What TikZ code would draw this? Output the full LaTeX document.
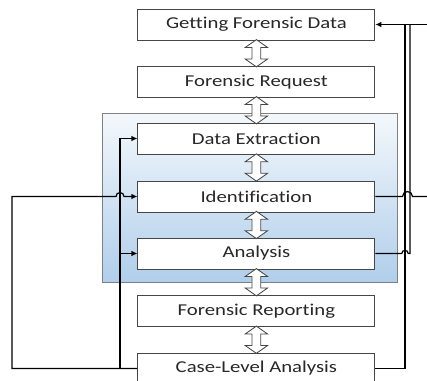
\documentclass[tikz,border=0pt]{standalone}
\usepackage{fontspec}
\setmainfont{Carlito}[FakeStretch=1.25, Ligatures={NoCommon}]
\usepackage{xcolor}
\definecolor{azulcl}{RGB}{244, 248, 252}
\definecolor{azulmed}{RGB}{176, 206, 235}
\definecolor{grisbd}{RGB}{128, 128, 128}
\definecolor{griscaja}{RGB}{70, 70, 70}
\definecolor{textogr}{RGB}{40, 40, 40}
\usepackage{tikz}
\usetikzlibrary{shapes, arrows, positioning, arrows.meta, calc}

\begin{document}
\begin{tikzpicture}[
    etapa/.style={draw=griscaja, line width=0.6pt, fill=white, minimum width=5.925cm,
        minimum height=0.775cm, inner sep=0pt, text=textogr, font=\fontsize{11.8}{14}\selectfont},
    doble/.style={double arrow, draw=griscaja, line width=0.6pt, fill=white, rotate=90,
        minimum height=0.68cm, inner sep=0pt, inner ysep=0.1cm,
        double arrow head extend=0.17cm, double arrow tip angle=110},
    enlace/.style={line width=0.85pt, black},
    punta/.style={-{Latex[length=1.5mm, width=1.4mm]}}
]
        \useasboundingbox (0,0) rectangle (10.675,-9.525);
        \shade[top color=azulcl, bottom color=azulmed, draw=grisbd, line width=0.6pt]
            (2.55,-2.825) rectangle (9.925,-7.05);

        \node[etapa] (gfd) at (6.41,-0.6125) {Getting Forensic Data};
        \node[etapa] (req) at (6.41,-2.05) {Forensic Request};
        \node[etapa] (ext) at (6.41,-3.4625) {Data Extraction};
        \node[etapa] (ide) at (6.41,-4.9125) {Identification};
        \node[etapa] (ana) at (6.41,-6.3375) {Analysis};
        \node[etapa] (rep) at (6.41,-7.775) {Forensic Reporting};
        \node[etapa] (cla) at (6.41,-9.2125) {Case-Level Analysis};

        \node[doble] (d1) at ($(gfd.south)!0.5!(req.north)$) {};
        \node[doble] (d2) at ($(req.south)!0.5!(ext.north)$) {};
        \node[doble] (d3) at ($(ext.south)!0.5!(ide.north)$) {};
        \node[doble] (d4) at ($(ide.south)!0.5!(ana.north)$) {};
        \node[doble] (d5) at ($(ana.south)!0.5!(rep.north)$) {};
        \node[doble] (d6) at ($(rep.south)!0.5!(cla.north)$) {};

        % buses a izquierda y derecha
        \coordinate (lext) at (0.3,0);
        \coordinate (lbus) at (3.0,0);
        \coordinate (rbus) at (10.125,0);
        \coordinate (rbusb) at (10.25,0);
        \coordinate (rfin) at (10.675,0);

        \draw[enlace, punta] (cla.west) -- (cla.west -| lext) -- (ide.west -| lext)
            -- ([xshift=-0.1cm]ide.west -| lbus) arc[start angle=180, end angle=0, radius=0.1cm]
            -- (ide.west);
        \draw[enlace, punta] (cla.west -| lbus) -- (ext.west -| lbus) -- (ext.west);
        \draw[enlace, punta] (ana.west -| lbus) -- (ana.west);

        \draw[enlace, punta] (gfd.east -| rfin) -- (gfd.east);
        \draw[enlace] (cla.east) -- (cla.east -| rbus) -- (gfd.east -| rbus);
        \draw[enlace] (ana.east) -- ([xshift=-0.08cm]ana.east -| rbus)
            arc[start angle=180, end angle=0, radius=0.08cm]
            -- (ana.east -| rbusb) -- (gfd.east -| rbusb);
        \draw[enlace] (ide.east) -- ([xshift=-0.0625cm]ide.east -| rbus)
            arc[start angle=180, end angle=0, radius=0.125cm] -- (ide.east -| rfin);
\end{tikzpicture}
\end{document}
